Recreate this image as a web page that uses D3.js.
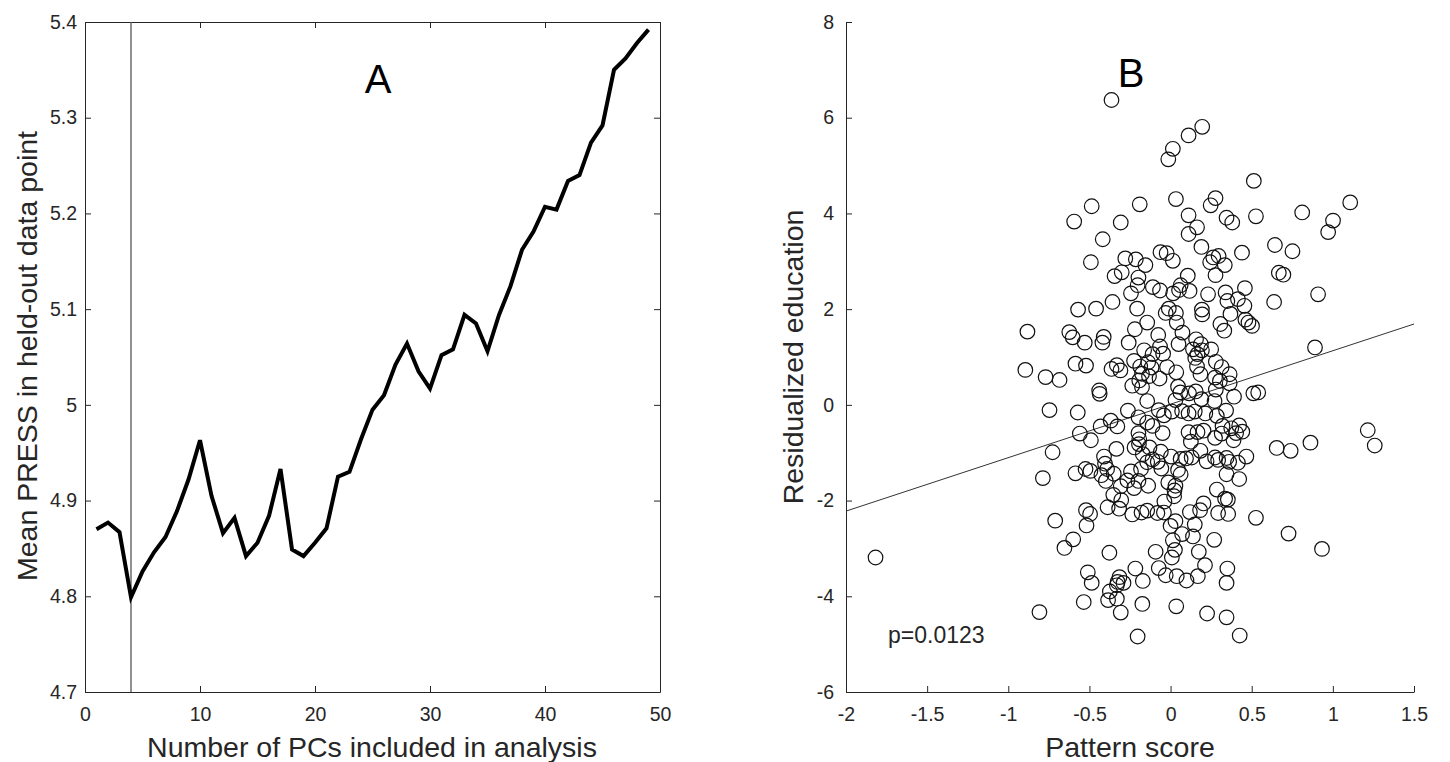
<!DOCTYPE html>
<html>
<head>
<meta charset="utf-8">
<script src="https://cdn.jsdelivr.net/npm/d3@7"></script>
<style>
  body { margin: 0; background: #fff; }
  svg { display: block; font-family: "Liberation Sans", Arial, sans-serif; }
  .tick text { font-size: 19.5px; fill: #262626; }
  .domain, .tick line { stroke: #262626; }
</style>
</head>
<body>
<div class="container"></div>
<script>
// Panel A: mean PRESS vs number of PCs
const pcs = d3.range(1, 50);
const press = [4.870, 4.877, 4.867, 4.799, 4.826, 4.846, 4.862, 4.889, 4.922, 4.963,
  4.905, 4.866, 4.882, 4.842, 4.856, 4.884, 4.933, 4.849, 4.842, 4.856,
  4.871, 4.925, 4.930, 4.964, 4.995, 5.010, 5.042, 5.064, 5.035, 5.017,
  5.052, 5.058, 5.094, 5.085, 5.056, 5.094, 5.124, 5.162, 5.181, 5.207,
  5.204, 5.234, 5.240, 5.274, 5.292, 5.350, 5.362, 5.378, 5.392];
const chosenPC = 4;
const xTicksA = [0, 10, 20, 30, 40, 50];
const yTicksA = [4.7, 4.8, 4.9, 5, 5.1, 5.2, 5.3, 5.4];

// Panel B: pattern score vs residualized education
const score = [-0.364, 0.195, 0.111, 0.014, -0.014, 0.513, 1.107, -0.486, -0.19, 0.033,
  0.277, 0.247, 0.811, 0.111, 0.345, 0.526, 1.001, -0.594, -0.307, 0.380,
  0.163, 0.971, 0.111, -0.418, 0.643, 0.19, 0.751, 0.44, -0.062, -0.024,
  -0.279, 0.014, 0.263, 0.296, -0.214, -0.491, 0.244, 0.334, -0.155, -0.301,
  0.277, -0.345, 0.106, -0.198, 0.667, 0.695, 0.062, -0.203, -0.109, -0.065,
  0.052, 0.117, -0.244, 0.016, 0.339, 0.458, 0.231, 0.909, 0.415, -0.358,
  0.638, 0.350, 0.455, -0.570, -0.459, -0.206, -0.011, 0.193, 0.195, -0.030,
  0.033, 0.369, 0.461, 0.480, 0.502, 0.038, -0.144, 0.307, 0.331, -0.882,
  -0.624, -0.603, -0.529, -0.412, -0.420, -0.220, -0.258, 0.073, -0.076, 0.157,
  0.049, 0.187, 0.250, 0.138, 0.166, 0.193, -0.163, -0.065, 0.890, -0.111,
  -0.046, 0.152, 0.279, 0.315, 0.364, -0.586, -0.521, -0.895, -0.331, -0.309,
  -0.364, -0.225, -0.187, -0.138, -0.117, -0.022, 0.035, -0.176, -0.193, -0.133,
  -0.068, 0.163, 0.184, 0.274, 0.304, -0.770, -0.684, -0.236, -0.176, -0.440,
  -0.437, 0.046, 0.060, 0.114, 0.155, 0.279, 0.364, 0.510, 0.540, 0.391,
  -0.144, 0.190, 0.030, 0.271, -0.746, -0.572, -0.263, -0.073, -0.041, 0.008,
  0.071, 0.111, 0.149, 0.214, 0.342, 0.285, -0.198, -0.144, -0.111, 0.320,
  -0.369, -0.431, -0.328, 0.423, 0.442, 0.404, 0.374, 0.203, 0.111, -0.559,
  -0.049, -0.198, -0.193, 0.166, 0.274, 0.315, 0.388, -0.491, 0.125, -0.195,
  0.654, 0.740, 0.862, 1.215, 1.258, -0.334, -0.222, -0.130, 0.184, -0.410,
  -0.060, -0.727, -0.171, -0.111, -0.079, -0.144, 0.003, 0.062, 0.130, 0.274,
  0.293, 0.345, 0.361, 0.467, 0.415, 0.222, 0.095, -0.404, -0.391, -0.182,
  -0.244, -0.057, 0.046, 0.062, -0.524, -0.586, -0.494, -0.426, -0.350, 0.345,
  -0.787, -0.399, -0.266, -0.198, -0.138, -0.014, 0.030, 0.423, -0.307, -0.225,
  0.024, 0.285, -0.353, -0.304, 0.022, 0.336, 0.353, 0.203, -0.388, -0.317,
  -0.038, 0.182, -0.521, -0.496, -0.041, -0.081, -0.236, -0.179, -0.144, 0.119,
  0.293, 0.355, 0.526, -0.711, -0.518, 0.000, 0.030, 0.149, 0.071, 0.138,
  0.727, -0.600, 0.014, 0.269, -0.654, 0.933, -0.092, 0.027, 0.174, -0.377,
  0.008, -1.818, -0.217, -0.073, 0.212, 0.350, -0.510, -0.030, 0.038, 0.168,
  -0.315, -0.326, -0.290, -0.171, 0.098, 0.345, -0.486, -0.331, -0.374, -0.385,
  -0.331, -0.535, -0.174, 0.035, -0.808, -0.307, 0.225, 0.345, -0.203, 0.426];
const education = [6.37, 5.81, 5.63, 5.35, 5.13, 4.68, 4.23, 4.15, 4.19, 4.30,
  4.32, 4.17, 4.02, 3.96, 3.91, 3.94, 3.85, 3.83, 3.81, 3.81,
  3.71, 3.61, 3.57, 3.46, 3.34, 3.30, 3.21, 3.18, 3.19, 3.17,
  3.06, 3.01, 3.08, 3.11, 3.04, 2.98, 2.98, 2.92, 2.92, 2.77,
  2.71, 2.69, 2.70, 2.66, 2.76, 2.72, 2.50, 2.50, 2.46, 2.39,
  2.40, 2.38, 2.33, 2.33, 2.35, 2.44, 2.31, 2.31, 2.21, 2.15,
  2.15, 2.17, 2.07, 1.99, 2.01, 2.01, 2.01, 1.99, 1.89, 1.92,
  1.92, 1.90, 1.78, 1.72, 1.65, 1.72, 1.72, 1.69, 1.55, 1.53,
  1.52, 1.41, 1.30, 1.42, 1.30, 1.58, 1.30, 1.51, 1.46, 1.37,
  1.27, 1.27, 1.16, 1.16, 1.06, 1.14, 1.14, 1.22, 1.20, 1.06,
  1.07, 0.98, 0.90, 0.79, 0.64, 0.86, 0.82, 0.73, 0.83, 0.72,
  0.75, 0.92, 0.80, 0.89, 0.78, 0.79, 0.68, 0.65, 0.51, 0.60,
  0.55, 0.80, 0.64, 0.57, 0.50, 0.58, 0.52, 0.40, 0.37, 0.30,
  0.23, 0.38, 0.26, 0.24, 0.28, 0.32, 0.45, 0.24, 0.26, 0.17,
  0.08, 0.12, 0.10, 0.08, -0.11, -0.16, -0.12, -0.11, -0.22, -0.14,
  -0.13, -0.18, -0.14, -0.18, -0.12, -0.23, -0.26, -0.37, -0.44, -0.44,
  -0.33, -0.45, -0.45, -0.43, -0.56, -0.59, -0.49, -0.54, -0.57, -0.60,
  -0.59, -0.59, -0.72, -0.57, -0.69, -0.60, -0.74, -0.74, -0.77, -0.82,
  -0.90, -0.96, -0.79, -0.53, -0.85, -0.92, -0.89, -0.89, -0.96, -1.08,
  -0.98, -0.99, -1.03, -1.14, -1.19, -1.20, -1.08, -1.13, -1.10, -1.10,
  -1.15, -1.11, -1.19, -1.08, -1.21, -1.18, -1.12, -1.23, -1.34, -1.34,
  -1.39, -1.33, -1.36, -1.45, -1.34, -1.43, -1.38, -1.47, -1.44, -1.45,
  -1.53, -1.59, -1.58, -1.59, -1.69, -1.62, -1.69, -1.55, -1.70, -1.74,
  -1.79, -1.77, -1.88, -1.99, -1.91, -1.96, -1.98, -2.06, -2.14, -2.17,
  -2.02, -2.20, -2.20, -2.28, -2.25, -2.26, -2.29, -2.25, -2.21, -2.24,
  -2.26, -2.28, -2.36, -2.42, -2.52, -2.53, -2.43, -2.50, -2.70, -2.75,
  -2.69, -2.81, -2.83, -2.82, -2.99, -3.01, -3.07, -3.03, -3.07, -3.09,
  -3.19, -3.19, -3.42, -3.41, -3.35, -3.42, -3.50, -3.56, -3.58, -3.58,
  -3.60, -3.70, -3.72, -3.68, -3.67, -3.72, -3.72, -3.77, -3.90, -4.08,
  -4.05, -4.12, -4.16, -4.21, -4.33, -4.34, -4.36, -4.44, -4.84, -4.82];
const fitIntercept = 0.014;
const fitSlope = 1.117;
const xTicksB = [-2, -1.5, -1, -0.5, 0, 0.5, 1, 1.5];
const yTicksB = [-6, -4, -2, 0, 2, 4, 6, 8];

const W = 1450, H = 762;
const plotTop = 22, plotBottom = 692;
// MATLAB style labels: plain hyphen for negatives, no trailing zeros
const fmt = (d) => String(d);

const svg = d3.select('.container')
  .append('svg')
  .attr('width', W)
  .attr('height', H);

// ---------- Panel A ----------
const xA = d3.scaleLinear().domain([0, 50]).range([85, 660]);
const yA = d3.scaleLinear().domain([4.7, 5.4]).range([plotBottom, plotTop]);

const gA = svg.append('g');
// bottom / left axes with inward ticks
gA.append('g')
  .attr('transform', 'translate(0,' + plotBottom + ')')
  .call(d3.axisBottom(xA).tickValues(xTicksA).tickSizeInner(-6).tickSizeOuter(0).tickPadding(15).tickFormat(fmt));
gA.append('g')
  .attr('transform', 'translate(85,0)')
  .call(d3.axisLeft(yA).tickValues(yTicksA).tickSizeInner(-6).tickSizeOuter(0).tickPadding(8).tickFormat(fmt));
// top / right box
gA.append('g')
  .attr('transform', 'translate(0,' + plotTop + ')')
  .call(d3.axisTop(xA).tickValues(xTicksA).tickSizeInner(-6).tickSizeOuter(0).tickFormat(''));
gA.append('g')
  .attr('transform', 'translate(660,0)')
  .call(d3.axisRight(yA).tickValues(yTicksA).tickSizeInner(-6).tickSizeOuter(0).tickFormat(''));

// chosen number of PCs
gA.append('line')
  .attr('x1', xA(chosenPC)).attr('x2', xA(chosenPC))
  .attr('y1', yA(4.7)).attr('y2', yA(5.4))
  .attr('stroke', '#555')
  .attr('stroke-width', 1.3);

gA.append('path')
  .datum(pcs.map((d, i) => [d, press[i]]))
  .attr('fill', 'none')
  .attr('stroke', '#000')
  .attr('stroke-width', 4)
  .attr('stroke-linejoin', 'miter')
  .attr('d', d3.line().x((d) => xA(d[0])).y((d) => yA(d[1])));

gA.append('text')
  .attr('x', 378).attr('y', 93)
  .attr('text-anchor', 'middle')
  .style('font-size', '40px')
  .text('A');

gA.append('text')
  .attr('x', 372).attr('y', 757)
  .attr('text-anchor', 'middle')
  .style('font-size', '28.5px')
  .attr('fill', '#262626')
  .text('Number of PCs included in analysis');

gA.append('text')
  .attr('transform', 'rotate(-90)')
  .attr('x', -356).attr('y', 37)
  .attr('text-anchor', 'middle')
  .style('font-size', '28.5px')
  .attr('fill', '#262626')
  .text('Mean PRESS in held-out data point');

// ---------- Panel B ----------
const xB = d3.scaleLinear().domain([-2, 1.5]).range([846, 1414]);
const yB = d3.scaleLinear().domain([-6, 8]).range([plotBottom, plotTop]);

const gB = svg.append('g');
gB.append('g')
  .attr('transform', 'translate(0,' + plotBottom + ')')
  .call(d3.axisBottom(xB).tickValues(xTicksB).tickSizeInner(-6).tickSizeOuter(0).tickPadding(15).tickFormat(fmt));
gB.append('g')
  .attr('transform', 'translate(846,0)')
  .call(d3.axisLeft(yB).tickValues(yTicksB).tickSizeInner(-6).tickSizeOuter(0).tickPadding(12).tickFormat(fmt));

gB.append('line')
  .attr('x1', xB(-2)).attr('x2', xB(1.5))
  .attr('y1', yB(fitIntercept + fitSlope * -2))
  .attr('y2', yB(fitIntercept + fitSlope * 1.5))
  .attr('stroke', '#333')
  .attr('stroke-width', 1);

gB.selectAll('.dot')
  .data(score.map((d, i) => [d, education[i]]))
  .enter()
  .append('circle')
  .attr('class', 'dot')
  .attr('cx', (d) => xB(d[0]))
  .attr('cy', (d) => yB(d[1]))
  .attr('r', 7.3)
  .attr('fill', 'none')
  .attr('stroke', '#111')
  .attr('stroke-width', 1.2);

gB.append('text')
  .attr('x', 1131).attr('y', 87)
  .attr('text-anchor', 'middle')
  .style('font-size', '40px')
  .text('B');

gB.append('text')
  .attr('x', 888).attr('y', 643)
  .style('font-size', '23px')
  .attr('fill', '#262626')
  .text('p=0.0123');

gB.append('text')
  .attr('x', 1130).attr('y', 757)
  .attr('text-anchor', 'middle')
  .style('font-size', '28.5px')
  .attr('fill', '#262626')
  .text('Pattern score');

gB.append('text')
  .attr('transform', 'rotate(-90)')
  .attr('x', -357).attr('y', 803)
  .attr('text-anchor', 'middle')
  .style('font-size', '28.5px')
  .attr('fill', '#262626')
  .text('Residualized education');
</script>
</body>
</html>
